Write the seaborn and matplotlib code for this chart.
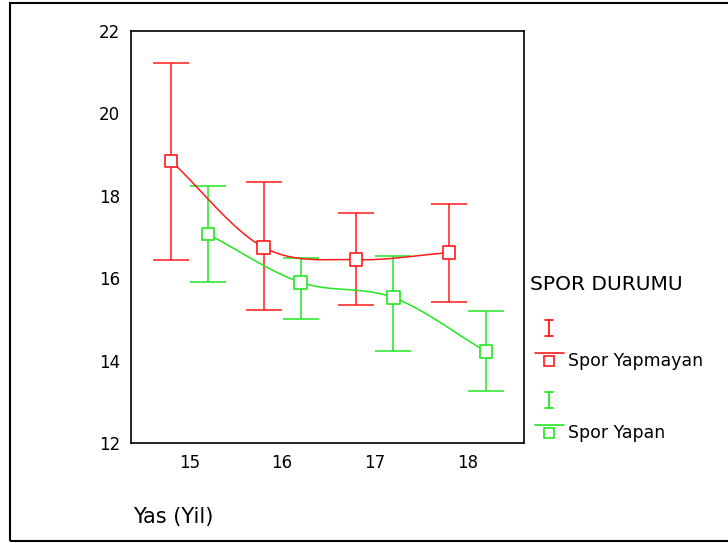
import numpy as np
import pandas as pd
import matplotlib
matplotlib.use("Agg")
import matplotlib.pyplot as plt
import seaborn as sns
from matplotlib.lines import Line2D
from matplotlib.patches import Rectangle

# veriler
yas = [15, 16, 17, 18]
gruplar = ["Spor Yapmayan", "Spor Yapan"]
ort_yapmayan = [18.85, 16.75, 16.45, 16.62]
alt_yapmayan = [16.45, 15.22, 15.36, 15.42]
ust_yapmayan = [21.22, 18.33, 17.58, 17.80]
ort_yapan = [17.07, 15.90, 15.53, 14.22]
alt_yapan = [15.90, 15.02, 14.23, 13.26]
ust_yapan = [18.25, 16.50, 16.55, 15.20]

renkler = {"Spor Yapmayan": "#ff1a1a", "Spor Yapan": "#22e622"}
kayma = {"Spor Yapmayan": -0.2, "Spor Yapan": 0.2}

df = pd.DataFrame({
    "yas": yas * 2,
    "grup": [gruplar[0]] * 4 + [gruplar[1]] * 4,
    "ort": ort_yapmayan + ort_yapan,
    "alt": alt_yapmayan + alt_yapan,
    "ust": ust_yapmayan + ust_yapan,
})
df["xpos"] = df["yas"] + df["grup"].map(kayma)


def catmull(x, y, n=20):
    # egriyi yumusatmak icin (sadece cizim)
    x = np.asarray(x, float); y = np.asarray(y, float)
    px = np.r_[2 * x[0] - x[1], x, 2 * x[-1] - x[-2]]
    py = np.r_[2 * y[0] - y[1], y, 2 * y[-1] - y[-2]]
    xs, ys = [], []
    t = np.linspace(0, 1, n)
    for i in range(1, len(px) - 2):
        for p, out in ((px, xs), (py, ys)):
            p0, p1, p2, p3 = p[i - 1], p[i], p[i + 1], p[i + 2]
            out.extend(0.5 * (2 * p1 + (-p0 + p2) * t + (2 * p0 - 5 * p1 + 4 * p2 - p3) * t ** 2
                              + (-p0 + 3 * p1 - 3 * p2 + p3) * t ** 3))
    return np.array(xs), np.array(ys)


sns.set_style("white")
plt.rcParams['font.family'] = ['DejaVu Sans']
plt.rcParams['text.color'] = 'black'
plt.rcParams['xtick.color'] = 'black'
plt.rcParams['ytick.color'] = 'black'

fig = plt.figure(figsize=(7.28, 5.43), dpi=100)
ax = fig.add_axes([131 / 728, 1 - 443 / 543, (524 - 131) / 728, (443 - 31) / 543])

for g in gruplar:
    d = df[df.grup == g]
    c = renkler[g]
    sx, sy = catmull(d.xpos, d.ort)
    ax.plot(sx, sy, color=c, lw=1.1, zorder=2)
    ax.errorbar(d.xpos, d.ort, yerr=[d.ort - d.alt, d.ust - d.ort], fmt='none',
                ecolor=c, elinewidth=1.1, capsize=13, capthick=1.1, zorder=1)

sns.scatterplot(data=df, x="xpos", y="ort", hue="grup", palette=renkler, marker="s",
                s=80, linewidth=1.2, legend=False, ax=ax, zorder=3)
# beyaz ic, renkli kenar
sc = ax.collections[-1]
sc.set_facecolor("white")
sc.set_edgecolor([renkler[g] for g in df.grup])

ax.set_xlim(14.37, 18.61)
ax.set_ylim(12, 22)
ax.set_xticks(yas)
ax.set_yticks([12, 14, 16, 18, 20, 22])
ax.tick_params(direction="out", length=3, width=2.5, color="black", labelcolor="black",
               labelsize=12, pad=5)
for s in ax.spines.values():
    s.set_color("black")
    s.set_linewidth(1.2)
ax.set_xlabel("")
ax.set_ylabel("")

fig.text(133 / 728, 1 - 517 / 543, "Yas (Yil)", fontsize=15, va="center", ha="left")

# lejant (elle)
fig.text(530 / 728, 1 - 284 / 543, "SPOR DURUMU", fontsize=14.5, va="center", ha="left")
fx = lambda p: p / 728
fy = lambda p: 1 - p / 543
for g, y0 in ((gruplar[0], 328), (gruplar[1], 400)):
    c = renkler[g]
    fig.add_artist(Line2D([fx(549), fx(549)], [fy(y0 - 8), fy(y0 + 8)], color=c, lw=1.3))
    fig.add_artist(Line2D([fx(545), fx(553)], [fy(y0 - 8), fy(y0 - 8)], color=c, lw=1.3))
    fig.add_artist(Line2D([fx(545), fx(553)], [fy(y0 + 8), fy(y0 + 8)], color=c, lw=1.3))
    fig.add_artist(Line2D([fx(535), fx(564)], [fy(y0 + 25), fy(y0 + 25)], color=c, lw=1.2))
    fig.add_artist(Line2D([fx(549)], [fy(y0 + 33)], color=c, marker="s", markersize=7,
                          markerfacecolor="white", markeredgewidth=1.2, lw=0))
    fig.text(fx(568), fy(y0 + 33), g, fontsize=12.5, va="center", ha="left")

fig.add_artist(Rectangle((10 / 728, 2 / 543), 1.0, 1 - 5 / 543, fill=False,
                         edgecolor="black", lw=1.5, transform=fig.transFigure))

fig.savefig("out.png", dpi=100)
